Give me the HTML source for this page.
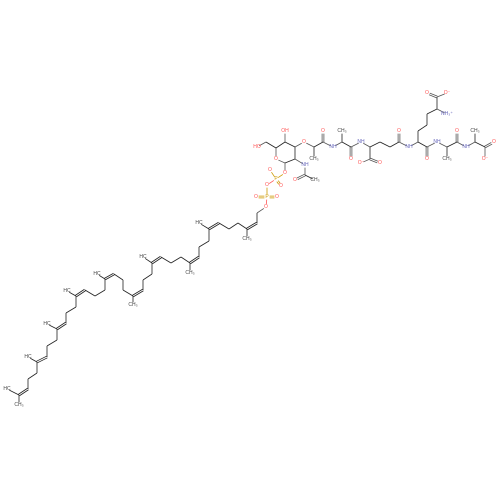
<!DOCTYPE html>
<html><head><meta charset="utf-8">
<style>
html,body{margin:0;padding:0;background:#fff;width:500px;height:500px;overflow:hidden}
svg text{font-family:"Liberation Sans",sans-serif;font-size:5px;text-anchor:middle;dominant-baseline:central}
</style></head>
<body>
<svg id="mol" width="500" height="500" viewBox="0 0 500 500" xmlns="http://www.w3.org/2000/svg"></svg>
<script>
// atoms: [id, x, y, label, color]
const atoms = [
// polyprenyl chain
["O0",266,207,"O","#f55"],["c1",257,213],["c2",257,223],["c3",247,229],["m3",247,239,"CH\u2083"],
["c4",238,223],["c5",229,229],["c6",219,223],["c7",209,229],["m7",199,223,"HC"],
["c8",209,241],["c9",199,247],["c10",199,257],["c11",190,263],["m11",190,273,"CH\u2083"],
["c12",181,257],["c13",171,263],["c14",161,257],["c15",152,263],["m15",143,257,"HC"],
["c16",152,274],["c17",143,280],["c18",143,290],["c19",133,296],["m19",133,305,"CH\u2083"],
["c20",123,290],["c21",123,280],["c22",114,274],["c23",105,279],["m23",97,274,"HC"],
["c24",105,290],["c25",95,296],["c26",85,290],["c27",76,296],["m27",67,291,"HC"],
["c28",76,307],["c29",66,313],["c30",66,323],["c31",57,329],["m31",47,324,"HC"],
["c32",57,340],["c33",47,346],["c34",47,357],["c35",37,362],["m35",28,357,"HC"],
["c36",37,373],["c37",28,379],["c38",28,389],["c39",19,395],["m39a",7,389,"HC"],["m39b",19,405,"CH\u2083"],
// phosphates
["P2",267,197,"P","#c90"],["O2a",256,197,"O","#f55"],["O2b",277,197,"O","#f55"],["Ob",267,185,"O","#f55"],
["P1",276,179,"P","#c90"],["O1a",270,170,"O","#f55"],["O1b",281,186,"O","#f55"],["O1",285,173,"O","#f55"],
// sugar
["C1",285,163],["Or",276,159,"O","#f55"],["C5",276,148],["C6",266,142],["O6",257,147,"HO","#f55"],
["C4",285,142],["O4",285,131,"OH","#f55"],["C3",295,147],["O3",304,142,"O","#f55"],["C2",295,159],
["N2",305,165,"NH","#66b"],["Ac",305,175],["AcO",295,180,"O","#f55"],["AcM",315,180,"CH\u2083"],
// lactyl + peptide
["L1",314,147],["L1m",314,159,"CH\u2083"],["L2",323,142],["L2o",323,131,"O","#f55"],["N3",333,147,"NH","#66b"],
["A1",342,142],["A1m",342,131,"CH\u2083"],["A1c",351,147],["A1o",351,159,"O","#f55"],["N4",361,142,"NH","#66b"],
["G1",370,147],["G1c",370,159],["G1o1",361,163,"O\u207b","#f55"],["G1o2",380,163,"O","#f55"],
["G2",380,142],["G3",390,147],["G4",399,142],["G4o",399,131,"O","#f55"],["N5",409,147,"NH","#66b"],
["K1",418,142],["K2",418,131],["K3",427,125],["K4",427,114],["K5",437,109],["K5n",447,114,"NH\u2083\u207a","#66b"],
["K6",437,97],["K6o1",427,93,"O","#f55"],["K6o2",447,93,"O\u207b","#f55"],
["K1c",427,147],["K1o",427,159,"O","#f55"],["N6",437,142,"NH","#66b"],
["B1",447,147],["B1m",447,159,"CH\u2083"],["B1c",457,142],["B1o",457,131,"O","#f55"],["N7",466,147,"NH","#66b"],
["D1",475,142],["D1m",475,131,"CH\u2083"],["D1c",485,147],["D1o1",494,142,"O","#f55"],["D1o2",485,159,"O\u207b","#f55"]
];
// bonds: [a, b, order]
const bonds = [
["O0","c1",1],["c1","c2",1],["c2","c3",2],["c3","m3",1],["c3","c4",1],["c4","c5",1],["c5","c6",1],["c6","c7",2],["c7","m7",1],
["c7","c8",1],["c8","c9",1],["c9","c10",1],["c10","c11",2],["c11","m11",1],["c11","c12",1],["c12","c13",1],["c13","c14",1],["c14","c15",2],["c15","m15",1],
["c15","c16",1],["c16","c17",1],["c17","c18",1],["c18","c19",2],["c19","m19",1],["c19","c20",1],["c20","c21",1],["c21","c22",1],["c22","c23",2],["c23","m23",1],
["c23","c24",1],["c24","c25",1],["c25","c26",1],["c26","c27",2],["c27","m27",1],["c27","c28",1],["c28","c29",1],["c29","c30",1],["c30","c31",2],["c31","m31",1],
["c31","c32",1],["c32","c33",1],["c33","c34",1],["c34","c35",2],["c35","m35",1],["c35","c36",1],["c36","c37",1],["c37","c38",1],["c38","c39",2],["c39","m39a",1],["c39","m39b",1],
["O0","P2",1],["P2","O2a",2],["P2","O2b",2],["P2","Ob",1],["Ob","P1",1],["P1","O1a",1],["P1","O1b",2],["P1","O1",1],["O1","C1",1],
["C1","Or",1],["Or","C5",1],["C5","C6",1],["C6","O6",1],["C5","C4",1],["C4","O4",1],["C4","C3",1],["C3","O3",1],["C3","C2",1],["C2","C1",1],
["C2","N2",1],["N2","Ac",1],["Ac","AcO",2],["Ac","AcM",1],
["O3","L1",1],["L1","L1m",1],["L1","L2",1],["L2","L2o",2],["L2","N3",1],["N3","A1",1],["A1","A1m",1],["A1","A1c",1],["A1c","A1o",2],["A1c","N4",1],
["N4","G1",1],["G1","G1c",1],["G1c","G1o1",1],["G1c","G1o2",2],["G1","G2",1],["G2","G3",1],["G3","G4",1],["G4","G4o",2],["G4","N5",1],["N5","K1",1],
["K1","K2",1],["K2","K3",1],["K3","K4",1],["K4","K5",1],["K5","K5n",1],["K5","K6",1],["K6","K6o1",2],["K6","K6o2",1],
["K1","K1c",1],["K1c","K1o",2],["K1c","N6",1],["N6","B1",1],["B1","B1m",1],["B1","B1c",1],["B1c","B1o",2],["B1c","N7",1],
["N7","D1",1],["D1","D1m",1],["D1","D1c",1],["D1c","D1o1",2],["D1c","D1o2",1]
];
const svg=document.getElementById('mol');
const NS="http://www.w3.org/2000/svg";
const A={};atoms.forEach(a=>A[a[0]]=a);
function shorten(p,q){const a=A[p],b=A[q];let x1=a[1],y1=a[2],x2=b[1],y2=b[2];const dx=x2-x1,dy=y2-y1,L=Math.hypot(dx,dy)||1;
 const s1=a[3]?2.6:0,s2=b[3]?2.6:0;return [x1+dx*s1/L,y1+dy*s1/L,x2-dx*s2/L,y2-dy*s2/L,-dy/L,dx/L];}
function col(a){return a[4]||"#333";}
bonds.forEach(bd=>{
 const [x1,y1,x2,y2,nx,ny]=shorten(bd[0],bd[1]);
 const offs=bd[2]===2?[-0.9,0.9]:[0];
 offs.forEach(o=>{
  const ln=document.createElementNS(NS,'line');
  
  
  ln.setAttribute('x1',x1+nx*o);ln.setAttribute('y1',y1+ny*o);
  ln.setAttribute('x2',x2+nx*o);ln.setAttribute('y2',y2+ny*o);
  const ca=A[bd[0]],cb=A[bd[1]];
  ln.setAttribute('stroke',(ca[4]||cb[4])?( (ca[4]&&cb[4])?col(ca):"#555"):"#222");
  ln.setAttribute('stroke-width','0.8');
  svg.appendChild(ln);
 });
});
atoms.forEach(a=>{
 if(!a[3])return;
 const t=document.createElementNS(NS,'text');
 
 
 t.setAttribute('x',a[1]);t.setAttribute('y',a[2]);
 t.setAttribute('fill',a[4]||"#444");
 t.textContent=a[3];
 svg.appendChild(t);
});
</script>
</body></html>
